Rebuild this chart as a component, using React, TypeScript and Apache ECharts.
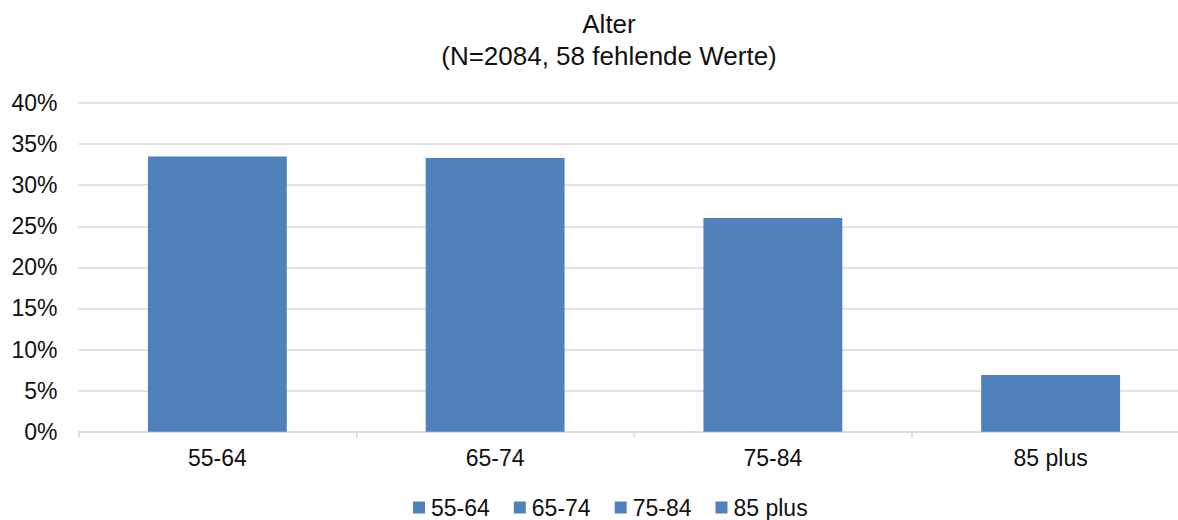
import React, { useEffect, useRef } from "react";
import * as echarts from "echarts";

const categories = ["55-64", "65-74", "75-84", "85 plus"];
const values = [33.5, 33.3, 26.0, 6.9];
const yTicks = { min: 0, max: 40, interval: 5 };
const titleText = "Alter\n(N=2084, 58 fehlende Werte)";

const FONT = '"Liberation Sans", Arial, sans-serif';
const BLUE = "#4F81BD";
const GRID = "#d9d9d9";

export default function App() {
  const ref = useRef<HTMLDivElement>(null);
  useEffect(() => {
    if (!ref.current) return;
    const chart = echarts.init(ref.current, undefined, { renderer: "svg" });
    const series = categories.map((name, i) => ({
      name,
      type: "bar",
      stack: "all",
      barWidth: "50%",
      itemStyle: { color: BLUE },
      data: categories.map((_, j) => (j === i ? values[i] : null)),
    }));
    chart.setOption({
      animation: false,
      textStyle: { fontFamily: FONT },
      title: {
        text: titleText,
        left: 604,
        textAlign: "center",
        top: 3,
        textStyle: {
          fontFamily: FONT,
          fontSize: 26,
          fontWeight: "normal",
          color: "#111",
          lineHeight: 32,
        },
      },
      legend: {
        left: 413,
        top: 496,
        padding: 0,
        itemWidth: 12,
        itemHeight: 12,
        itemGap: 24,
        icon: "rect",
        textStyle: { fontFamily: FONT, fontSize: 23, color: "#111", padding: [0, 0, 0, 1] },
        data: categories,
      },
      grid: { left: 78.5, right: 18.5, top: 103, bottom: 88.3 },
      xAxis: {
        type: "category",
        data: categories,
        axisLine: { lineStyle: { color: GRID, width: 1.5 } },
        axisTick: { show: true, length: 6, lineStyle: { color: GRID, width: 1.5 } },
        axisLabel: { fontFamily: FONT, fontSize: 23, color: "#111", margin: 15 },
      },
      yAxis: {
        type: "value",
        min: yTicks.min,
        max: yTicks.max,
        interval: yTicks.interval,
        axisLine: { show: false },
        axisTick: { show: false },
        splitLine: { lineStyle: { color: GRID, width: 1.5 } },
        axisLabel: {
          fontFamily: FONT,
          fontSize: 23,
          color: "#111",
          margin: 21,
          formatter: "{value}%",
        },
      },
      series,
    });
    return () => chart.dispose();
  }, []);
  return (
    <div
      style={{
        position: "fixed",
        left: 0,
        top: 0,
        width: 1178,
        height: 520,
        overflow: "hidden",
        background: "#fff",
      }}
    >
      <div ref={ref} style={{ width: 1208, height: 520 }} />
    </div>
  );
}
